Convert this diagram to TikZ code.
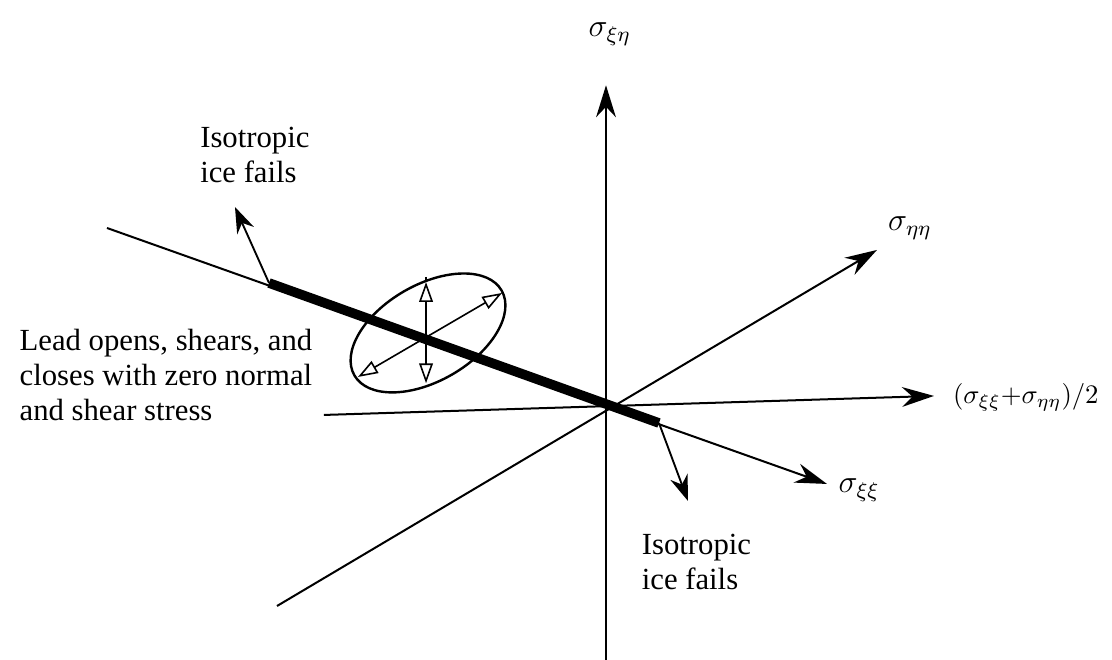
\documentclass[tikz,border=0pt]{standalone}
\usepackage{fontspec}
\setmainfont{Liberation Serif}
\usepackage{tikz}
\usetikzlibrary{arrows.meta, positioning, calc}

\begin{document}
\begin{tikzpicture}[
    axis/.style={line width=0.75pt, -{Stealth[length=4.2mm, width=2.6mm]}},
    plain/.style={line width=0.7pt},
    lead/.style={line width=3.6pt},
    fail/.style={line width=0.7pt, -{Stealth[length=3.4mm, width=2.4mm]}},
    motion/.style={line width=0.6pt, {Triangle[open, length=2.6mm, width=1.8mm]}-{Triangle[open, length=2.6mm, width=1.8mm]}},
    txt/.style={align=left, font=\fontsize{11.5}{13.2}\selectfont, inner sep=0pt},
    sym/.style={font=\large, inner sep=0pt},
]
\useasboundingbox (-7.974,-3.342) rectangle (6.658,5.342);

% axes
\coordinate (origin) at (0,0);
\coordinate (vbot) at (0,-3.342);
\coordinate (vtop) at (0,4.22);
\coordinate (hleft) at (-3.711,-0.118);
\coordinate (hright) at (4.316,0.132);
\coordinate (eleft) at (-4.329,-2.632);
\coordinate (eright) at (3.566,2.053);
\coordinate (xleft) at (-6.566,2.342);
\coordinate (xright) at (2.908,-1.026);

\draw[axis] (vbot) -- (vtop);
\draw[axis] (hleft) -- (hright);
\draw[axis] (eleft) -- (eright);
\draw[axis] (xleft) -- (xright);

\node[sym] (sxe) at (0.05,4.89) {$\sigma_{\xi\eta}$};
\node[sym, font=\normalsize, anchor=west] (avg) at (4.56,0.12) {$(\sigma_{\xi\xi}{+}\sigma_{\eta\eta})/2$};
\node[sym] (see) at (4.00,2.34) {$\sigma_{\eta\eta}$};
\node[sym] (sxx) at (3.33,-1.11) {$\sigma_{\xi\xi}$};

% lead
\coordinate (leadA) at (-4.434,1.618);
\coordinate (leadB) at (0.697,-0.224);
\draw[lead] (leadA) -- (leadB);

% failure arrows
\coordinate (failA) at (-4.882,2.618);
\coordinate (failB) at (1.079,-1.25);
\draw[fail] (leadA) -- (failA);
\draw[fail] (leadB) -- (failB);

\node[txt] (isoA) at (-4.62,3.30) {Isotropic\\ice fails};
\node[txt] (isoB) at (1.19,-2.05) {Isotropic\\ice fails};

% ellipse of lead motion
\coordinate (ell) at (-2.342,0.961);
\draw[line width=0.9pt] (ell) ellipse [x radius=1.118, y radius=0.632, rotate=30];
\coordinate (vupper) at (-2.368,1.63);
\coordinate (vlower) at (-2.368,0.30);
\draw[plain] (-2.368,1.70) -- (vupper);
\draw[motion] (vlower) -- (vupper);
\coordinate (dlow) at (-3.263,0.382);
\coordinate (dhigh) at (-1.368,1.487);
\draw[motion] (dlow) -- (dhigh);

\node[txt] (lead) at (-5.79,0.41) {Lead opens, shears, and\\closes with zero normal\\and shear stress};
\end{tikzpicture}
\end{document}
